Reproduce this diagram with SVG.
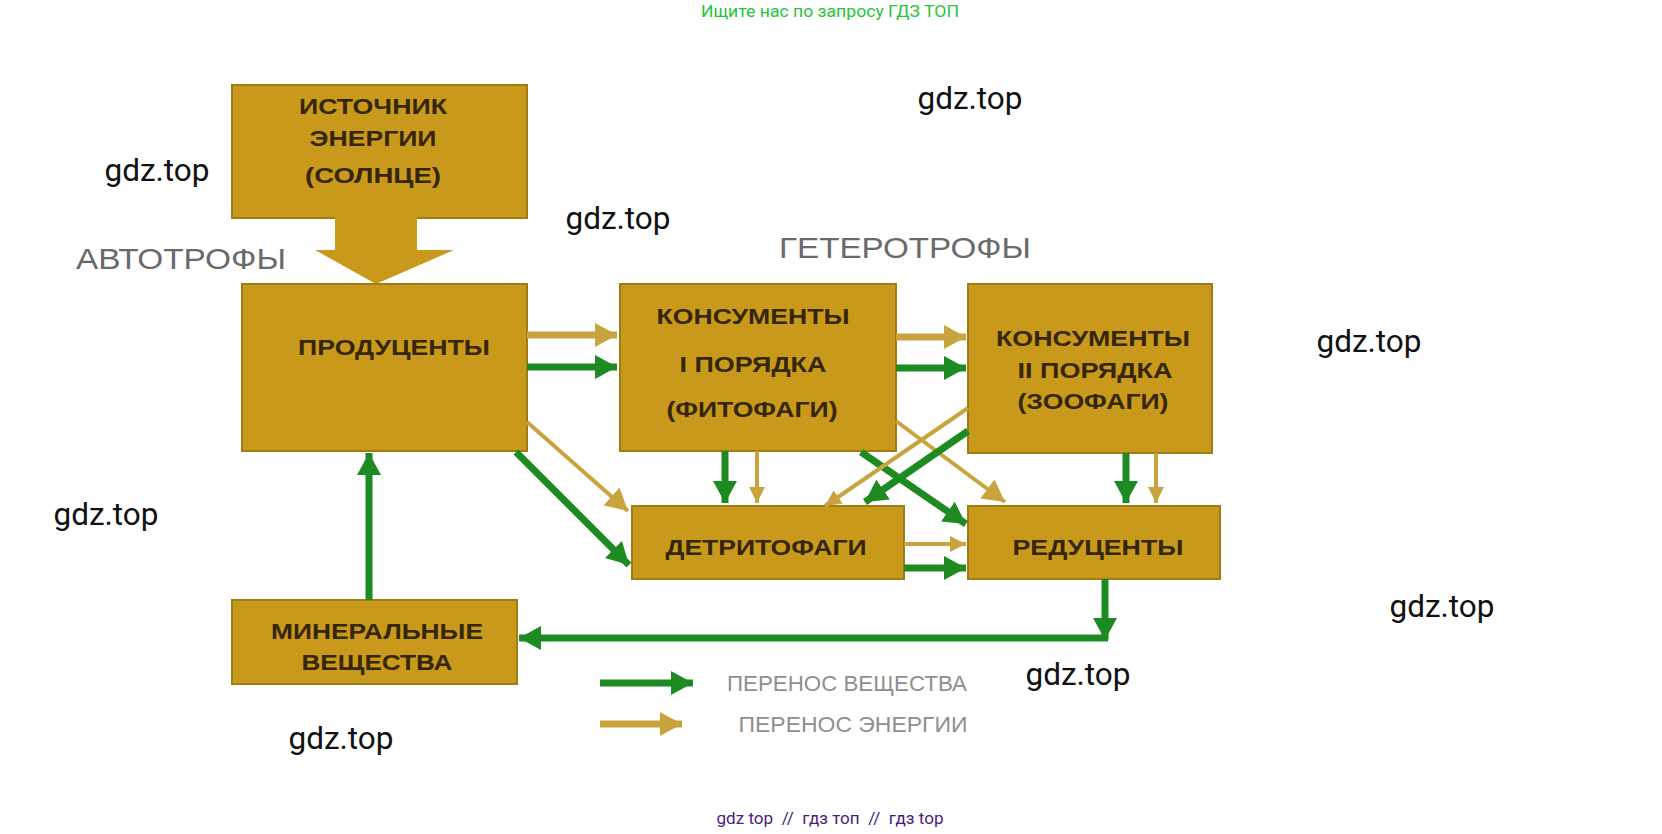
<svg xmlns="http://www.w3.org/2000/svg" width="1662" height="834" viewBox="0 0 1662 834">
<style>
.box{fill:#c8991a;stroke:#a07c14;stroke-width:2}
.bt{font-family:"Liberation Sans",Arial,sans-serif;font-weight:bold;font-size:22px;fill:#35260a;text-anchor:middle}
.cap{font-family:"Liberation Sans",Arial,sans-serif;font-size:30px;fill:#6a6a6a;text-anchor:middle}
.leg{font-family:"Liberation Sans",Arial,sans-serif;font-size:22px;fill:#8f8f8f;text-anchor:middle}
.wm{font-family:Roboto,"Open Sans",sans-serif;font-size:31.5px;fill:#111;text-anchor:middle}
.g{stroke:#1e8a22;stroke-width:7;fill:none}
.y{stroke:#c9a43e;stroke-width:7;fill:none}
.yt{stroke:#c9a43e;stroke-width:4;fill:none}
</style>
<defs>
<marker id="gh" markerUnits="userSpaceOnUse" markerWidth="22" markerHeight="24" refX="22" refY="12" orient="auto"><path d="M0,0 L22,12 L0,24 z" fill="#1e8a22"/></marker>
<marker id="yh" markerUnits="userSpaceOnUse" markerWidth="22" markerHeight="24" refX="22" refY="12" orient="auto"><path d="M0,0 L22,12 L0,24 z" fill="#c9a43e"/></marker>
<marker id="ys" markerUnits="userSpaceOnUse" markerWidth="16" markerHeight="16" refX="16" refY="8" orient="auto"><path d="M0,0 L16,8 L0,16 z" fill="#c9a43e"/></marker>
</defs>
<rect width="1662" height="834" fill="#ffffff"/>
<text x="830" y="17" textLength="258" lengthAdjust="spacingAndGlyphs" style="font-family:Roboto,'Noto Sans',sans-serif;font-size:17px;fill:#27c33a" text-anchor="middle">Ищите нас по запросу ГДЗ ТОП</text>

<g id="labels">
<text class="cap" x="181" y="269" textLength="210" lengthAdjust="spacingAndGlyphs">АВТОТРОФЫ</text>
<text class="cap" x="905" y="258" textLength="252" lengthAdjust="spacingAndGlyphs">ГЕТЕРОТРОФЫ</text>
</g>

<g id="source">
<rect class="box" x="232" y="85" width="295" height="133"/>
<text class="bt" x="373" y="114" textLength="148" lengthAdjust="spacingAndGlyphs">ИСТОЧНИК</text>
<text class="bt" x="373" y="146" textLength="127" lengthAdjust="spacingAndGlyphs">ЭНЕРГИИ</text>
<text class="bt" x="373" y="183" textLength="136" lengthAdjust="spacingAndGlyphs">(СОЛНЦЕ)</text>
<polygon points="335,217 417,217 417,250 454,250 376,284 315,250 335,250" fill="#c8991a"/>
</g>

<g id="producers">
<rect class="box" x="242" y="284" width="285" height="167"/>
<text class="bt" x="394" y="355" textLength="192" lengthAdjust="spacingAndGlyphs">ПРОДУЦЕНТЫ</text>
</g>

<g id="consumers1">
<rect class="box" x="620" y="284" width="276" height="167"/>
<text class="bt" x="753" y="324" textLength="193" lengthAdjust="spacingAndGlyphs">КОНСУМЕНТЫ</text>
<text class="bt" x="753" y="372" textLength="147" lengthAdjust="spacingAndGlyphs">I ПОРЯДКА</text>
<text class="bt" x="752" y="417" textLength="171" lengthAdjust="spacingAndGlyphs">(ФИТОФАГИ)</text>
</g>

<g id="consumers2">
<rect class="box" x="968" y="284" width="244" height="169"/>
<text class="bt" x="1093" y="346" textLength="194" lengthAdjust="spacingAndGlyphs">КОНСУМЕНТЫ</text>
<text class="bt" x="1095" y="378" textLength="155" lengthAdjust="spacingAndGlyphs">II ПОРЯДКА</text>
<text class="bt" x="1093" y="409" textLength="151" lengthAdjust="spacingAndGlyphs">(ЗООФАГИ)</text>
</g>

<g id="detritophages">
<rect class="box" x="632" y="506" width="272" height="73"/>
<text class="bt" x="766" y="555" textLength="201" lengthAdjust="spacingAndGlyphs">ДЕТРИТОФАГИ</text>
</g>

<g id="reducers">
<rect class="box" x="968" y="506" width="252" height="73"/>
<text class="bt" x="1098" y="555" textLength="171" lengthAdjust="spacingAndGlyphs">РЕДУЦЕНТЫ</text>
</g>

<g id="minerals">
<rect class="box" x="232" y="600" width="285" height="84"/>
<text class="bt" x="377" y="639" textLength="212" lengthAdjust="spacingAndGlyphs">МИНЕРАЛЬНЫЕ</text>
<text class="bt" x="377" y="670" textLength="151" lengthAdjust="spacingAndGlyphs">ВЕЩЕСТВА</text>
</g>

<g id="connectors">
<line class="y" x1="527" y1="335" x2="617" y2="335" marker-end="url(#yh)"/>
<line class="g" x1="527" y1="367" x2="617" y2="367" marker-end="url(#gh)"/>
<line class="y" x1="896" y1="337" x2="966" y2="337" marker-end="url(#yh)"/>
<line class="g" x1="896" y1="368" x2="966" y2="368" marker-end="url(#gh)"/>
<line class="g" x1="725" y1="451" x2="725" y2="503" marker-end="url(#gh)"/>
<line class="yt" x1="757" y1="451" x2="757" y2="503" marker-end="url(#ys)"/>
<line class="g" x1="1126" y1="453" x2="1126" y2="503" marker-end="url(#gh)"/>
<line class="yt" x1="1156" y1="453" x2="1156" y2="503" marker-end="url(#ys)"/>
<line class="yt" x1="904" y1="544" x2="966" y2="544" marker-end="url(#ys)"/>
<line class="g" x1="904" y1="568" x2="966" y2="568" marker-end="url(#gh)"/>
<line class="yt" x1="527" y1="422" x2="628" y2="511" marker-end="url(#yh)"/>
<line class="g" x1="516" y1="452" x2="629" y2="565" marker-end="url(#gh)"/>
<line class="yt" x1="896" y1="421" x2="1005" y2="502" marker-end="url(#yh)"/>
<line class="g" x1="861" y1="452" x2="966" y2="524" marker-end="url(#gh)"/>
<line class="yt" x1="968" y1="408" x2="825" y2="506" marker-end="url(#ys)"/>
<line class="g" x1="968" y1="431" x2="865" y2="502" marker-end="url(#gh)"/>
<line class="g" x1="1105" y1="579" x2="1105" y2="640" marker-end="url(#gh)"/>
<line class="g" x1="1108" y1="638" x2="519" y2="638" marker-end="url(#gh)"/>
<line class="g" x1="369" y1="600" x2="369" y2="453" marker-end="url(#gh)"/>
</g>

<g id="legend">
<line class="g" x1="600" y1="683" x2="693" y2="683" marker-end="url(#gh)"/>
<line class="y" x1="600" y1="724" x2="682" y2="724" marker-end="url(#yh)"/>
<text class="leg" x="847" y="691" textLength="240" lengthAdjust="spacingAndGlyphs">ПЕРЕНОС ВЕЩЕСТВА</text>
<text class="leg" x="853" y="732" textLength="229" lengthAdjust="spacingAndGlyphs">ПЕРЕНОС ЭНЕРГИИ</text>
</g>

<g id="watermarks">
<text class="wm" x="157" y="181">gdz.top</text>
<text class="wm" x="970" y="109">gdz.top</text>
<text class="wm" x="618" y="229">gdz.top</text>
<text class="wm" x="1369" y="352">gdz.top</text>
<text class="wm" x="106" y="525">gdz.top</text>
<text class="wm" x="1442" y="617">gdz.top</text>
<text class="wm" x="1078" y="685">gdz.top</text>
<text class="wm" x="341" y="749">gdz.top</text>
</g>

<text x="830" y="824" xml:space="preserve" textLength="227" lengthAdjust="spacingAndGlyphs" style="font-family:Roboto,'Noto Sans',sans-serif;font-size:17px;fill:#4b1d80" text-anchor="middle">gdz top  //  гдз топ  //  гдз top</text>
</svg>
